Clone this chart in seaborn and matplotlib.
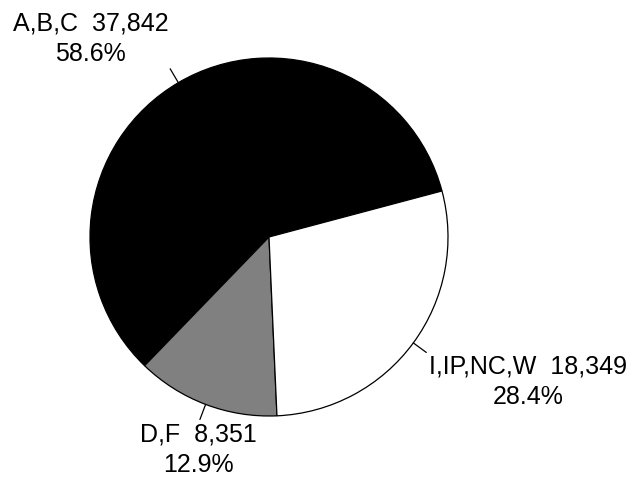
import numpy as np
import matplotlib
matplotlib.use("Agg")
import matplotlib.pyplot as plt
import seaborn as sns

# Date
categorii = ["A,B,C", "D,F", "I,IP,NC,W"]
valori = [37842, 8351, 18349]
procente = ["58.6%", "12.9%", "28.4%"]
culori = ["#000000", "#808080", "#ffffff"]

sns.set_theme(style="white")
plt.rcParams["font.family"] = ["Liberation Sans", "DejaVu Sans"]
plt.rcParams["text.color"] = "black"

fig = plt.figure(figsize=(6.34, 4.82), dpi=100)
ax = fig.add_axes([0, 0, 1, 1])

wedges, _ = ax.pie(valori, colors=culori, startangle=14.9, counterclock=True,
                   wedgeprops=dict(edgecolor="black", linewidth=0.9))

# etichete cu linii scurte
for w, cat, v, p in zip(wedges, categorii, valori, procente):
    ang = np.deg2rad((w.theta1 + w.theta2) / 2)
    c, s = np.cos(ang), np.sin(ang)
    ax.plot([c, 1.09 * c], [s, 1.09 * s], color="black", lw=0.9)
    if abs(c) < 0.4:
        ha = "center"
    elif c > 0:
        ha = "left"
    else:
        ha = "right"
    va = "bottom" if s > 0 else "top"
    ax.text(1.11 * c, 1.11 * s, f"{cat}  {v:,}\n{p}", ha=ha, va=va,
            multialignment="center", fontsize=18, linespacing=1.35,
            color="black")

ax.set_xlim(-269 / 179, (634 - 269) / 179)
ax.set_ylim(-(482 - 237) / 179, 237 / 179)
ax.set_aspect("equal")
ax.axis("off")

fig.savefig("out.png", dpi=100)
